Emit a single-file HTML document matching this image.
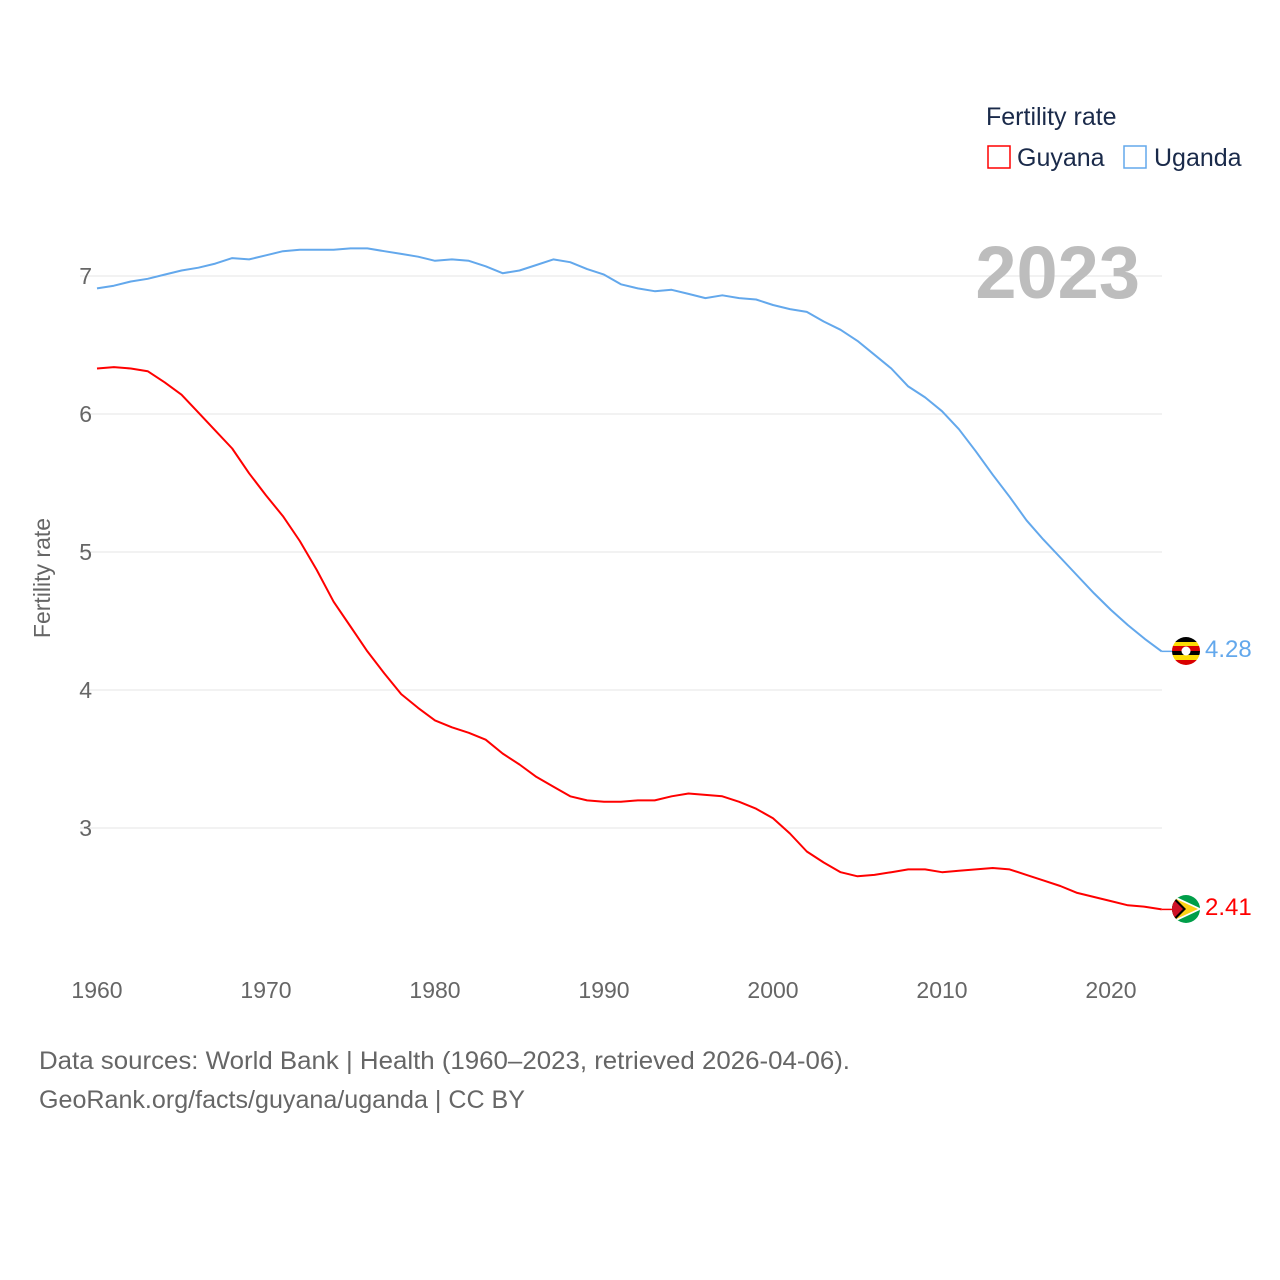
<!DOCTYPE html>
<html><head><meta charset="utf-8"><style>
html,body{margin:0;padding:0;background:#fff}
svg{display:block;font-family:"Liberation Sans",sans-serif}
</style></head><body>
<svg id="chart" width="1280" height="1280" viewBox="0 0 1280 1280">
<g id="grid"></g>
<g id="yticks"></g>
<g id="xticks"></g>
<text x="50" y="578" transform="rotate(-90 50 578)" text-anchor="middle" font-size="23" fill="#666">Fertility rate</text>
<text x="1140" y="298" text-anchor="end" font-size="74" font-weight="bold" fill="#bdbdbd">2023</text>
<g>
<text x="986" y="125" font-size="25" fill="#1a2a4a">Fertility rate</text>
<g><rect x="988" y="146" width="22" height="22" fill="none" stroke="#ff0000" stroke-width="1.5"/><text x="1017" y="166" font-size="25" fill="#1a2a4a">Guyana</text></g>
<g><rect x="1124" y="146" width="22" height="22" fill="none" stroke="#63a8ec" stroke-width="1.5"/><text x="1154" y="166" font-size="25" fill="#1a2a4a">Uganda</text></g>
</g>
<g id="series"></g>
<g>
<clipPath id="cu"><circle cx="1186" cy="651" r="14"/></clipPath>
<g clip-path="url(#cu)"><rect x="1172" y="637" width="28" height="5" fill="#000"/><rect x="1172" y="642" width="28" height="4" fill="#fcdc04"/><rect x="1172" y="646" width="28" height="5" fill="#d90000"/><rect x="1172" y="651" width="28" height="4" fill="#000"/><rect x="1172" y="655" width="28" height="5" fill="#fcdc04"/><rect x="1172" y="660" width="28" height="5" fill="#d90000"/><circle cx="1186" cy="651" r="4.5" fill="#fff"/></g>
</g>
<g>
<clipPath id="cg"><circle cx="1186" cy="909" r="14"/></clipPath>
<g clip-path="url(#cg)"><rect x="1172" y="895" width="28" height="28" fill="#009e49"/><polygon points="1172,895 1202,909 1172,923" fill="#fff"/><polygon points="1172,897 1198,909 1172,921" fill="#fcd116"/><polygon points="1172,895 1186,909 1172,923" fill="#000"/><polygon points="1172,898 1183,909 1172,920" fill="#ce1126"/></g>
</g>
<text x="1205" y="657" font-size="24" fill="#63a8ec">4.28</text>
<text x="1205" y="915" font-size="24" fill="#ff0000">2.41</text>
<text x="39" y="1069" font-size="25" textLength="811" lengthAdjust="spacingAndGlyphs" fill="#666">Data sources: World Bank | Health (1960–2023, retrieved 2026-04-06).</text>
<text x="39" y="1108" font-size="25" textLength="486" lengthAdjust="spacingAndGlyphs" fill="#666">GeoRank.org/facts/guyana/uganda | CC BY</text>
</svg>
<script>
const years = [];
for (let y = 1960; y <= 2023; y++) years.push(y);
const uganda = [6.91,6.93,6.96,6.98,7.01,7.04,7.06,7.09,7.13,7.12,7.15,7.18,7.19,7.19,7.19,7.20,7.20,7.18,7.16,7.14,7.11,7.12,7.11,7.07,7.02,7.04,7.08,7.12,7.10,7.05,7.01,6.94,6.91,6.89,6.90,6.87,6.84,6.86,6.84,6.83,6.79,6.76,6.74,6.67,6.61,6.53,6.43,6.33,6.20,6.12,6.02,5.89,5.73,5.56,5.40,5.23,5.09,4.96,4.83,4.70,4.58,4.47,4.37,4.28];
const guyana = [6.33,6.34,6.33,6.31,6.23,6.14,6.01,5.88,5.75,5.57,5.41,5.26,5.08,4.87,4.64,4.46,4.28,4.12,3.97,3.87,3.78,3.73,3.69,3.64,3.54,3.46,3.37,3.30,3.23,3.20,3.19,3.19,3.20,3.20,3.23,3.25,3.24,3.23,3.19,3.14,3.07,2.96,2.83,2.75,2.68,2.65,2.66,2.68,2.70,2.70,2.68,2.69,2.70,2.71,2.70,2.66,2.62,2.58,2.53,2.50,2.47,2.44,2.43,2.41];
const yTicks = [3,4,5,6,7];
const xTicks = [1960,1970,1980,1990,2000,2010,2020];
const NS = "http://www.w3.org/2000/svg";
const xs = y => 97 + (y - 1960) * (1014 / 60);
const ys = v => 276 + (7 - v) * 138;
function mk(tag, attrs, parent, txt) {
  const e = document.createElementNS(NS, tag);
  for (const k in attrs) e.setAttribute(k, attrs[k]);
  if (txt !== undefined) e.textContent = txt;
  parent.appendChild(e);
  return e;
}
const grid = document.getElementById('grid'), yt = document.getElementById('yticks'), xt = document.getElementById('xticks'), ser = document.getElementById('series');
yTicks.forEach(v => {
  const l = mk('line', {x1: 80, x2: 1162, y1: ys(v), y2: ys(v), stroke: '#e6e6e6', 'stroke-width': 1}, grid);
  
  
  const t = mk('text', {x: 92, y: ys(v) + 8, 'text-anchor': 'end', 'font-size': 23, fill: '#666'}, yt, String(v));
  
  
});
xTicks.forEach(v => {
  const t = mk('text', {x: xs(v), y: 998, 'text-anchor': 'middle', 'font-size': 23, fill: '#666'}, xt, String(v));
  
  
});
function line(vals, color, name) {
  const d = vals.map((v, i) => (i ? 'L' : 'M') + xs(years[i]).toFixed(1) + ',' + ys(v).toFixed(1)).join(' ');
  const p = mk('path', {d: d, fill: 'none', stroke: color, 'stroke-width': 2, 'stroke-linejoin': 'round'}, ser);
  
  
  const n = vals.length - 1;
  const c = mk('line', {x1: xs(years[n]), y1: ys(vals[n]), x2: 1172, y2: ys(vals[n]), stroke: color, 'stroke-width': 1.5}, ser);
  
  
}
line(uganda, '#63a8ec', 'uganda-line');
line(guyana, '#ff0000', 'guyana-line');
</script>
</body></html>
